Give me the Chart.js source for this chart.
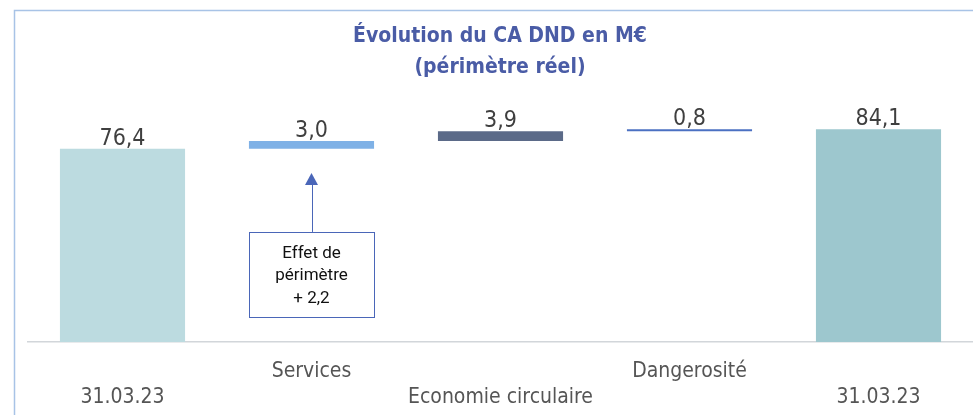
<!DOCTYPE html>
<html><head><meta charset="utf-8">
<script src="https://cdn.jsdelivr.net/npm/chart.js@4/dist/chart.umd.min.js"></script>
<style>html,body{margin:0;padding:0;background:#fff}canvas{display:block}</style>
</head><body>
<canvas id="c" width="973" height="415"></canvas>
<script>
const categories = ['31.03.23', 'Services', 'Economie circulaire', 'Dangerosité', '31.03.23'];
const values = [76.4, 3.0, 3.9, 0.8, 84.1];
const kinds = ['total', 'delta', 'delta', 'delta', 'total'];
const labelRow = [1, 0, 1, 0, 1];
const colors = ['#bcdbe0', '#7fb1e6', '#5b6a88', '#4b70c2', '#9dc7ce'];
const titleLines = ['Évolution du CA DND en M€', '(périmètre réel)'];
const noteLines = ['Effet de', 'périmètre', '+ 2,2'];

let run = 0;
const ranges = values.map((v, i) => {
  if (kinds[i] === 'total') { run = v; return [0, v]; }
  const r = [run, +(run + v).toFixed(1)]; run = r[1]; return r;
});
const axisLabels = categories.map((c, i) => labelRow[i] ? ['', c] : [c, '']);
const fmt = v => v.toFixed(1).replace('.', ',');
const NARROW = '"Liberation Sans Narrow", "DejaVu Sans Condensed", sans-serif';

const deco = {
  id: 'deco',
  afterDraw(chart) {
    const ctx = chart.ctx, ys = chart.scales.y;
    ctx.save();
    // frame
    ctx.strokeStyle = '#a8c3e6'; ctx.lineWidth = 1.5;
    ctx.beginPath(); ctx.moveTo(14.5, 415); ctx.lineTo(14.5, 10.5); ctx.lineTo(973, 10.5); ctx.stroke();
    // title
    ctx.fillStyle = '#4a5ca6'; ctx.textAlign = 'center'; ctx.textBaseline = 'middle';
    ctx.font = 'bold 21px ' + NARROW;
    ctx.fillText(titleLines[0], 500, 37);
    ctx.fillText(titleLines[1], 500, 68);
    // value labels
    const meta = chart.getDatasetMeta(0);
    ctx.fillStyle = '#3f3f3f'; ctx.font = '23px ' + NARROW; ctx.textBaseline = 'alphabetic';
    meta.data.forEach((bar, i) => {
      const top = Math.min(bar.y, bar.base);
      ctx.fillText(fmt(values[i]), bar.x, top - 4);
    });
    // annotation
    const b = meta.data[1];
    const cx = b.x, w = b.width;
    const tipY = ys.getPixelForValue(66.8), boxTop = ys.getPixelForValue(43.5), boxBot = ys.getPixelForValue(9.9);
    ctx.strokeStyle = '#4a66b8'; ctx.fillStyle = '#4a66b8'; ctx.lineWidth = 1;
    ctx.beginPath(); ctx.moveTo(Math.round(cx) + 0.5, boxTop); ctx.lineTo(Math.round(cx) + 0.5, tipY + 10); ctx.stroke();
    ctx.beginPath(); ctx.moveTo(cx, tipY); ctx.lineTo(cx - 6.5, tipY + 12); ctx.lineTo(cx + 6.5, tipY + 12); ctx.closePath(); ctx.fill();
    ctx.strokeRect(Math.round(cx - w / 2) + 0.5, Math.round(boxTop) + 0.5, Math.round(w), Math.round(boxBot - boxTop));
    ctx.fillStyle = '#111'; ctx.font = '17px Roboto, "Open Sans", sans-serif'; ctx.textBaseline = 'alphabetic';
    const mid = (boxTop + boxBot) / 2;
    noteLines.forEach((t, k) => ctx.fillText(t, cx, mid + (k - 1) * 22.5 + 6));
    ctx.restore();
  }
};

new Chart(document.getElementById('c'), {
  type: 'bar',
  data: {
    labels: axisLabels,
    datasets: [{
      data: ranges,
      backgroundColor: colors,
      borderWidth: 0,
      borderSkipped: false,
      categoryPercentage: 1,
      barPercentage: 0.662
    }]
  },
  options: {
    responsive: false,
    animation: false,
    layout: { padding: { top: 89, left: 28, right: 0, bottom: 0 } },
    plugins: { legend: { display: false }, tooltip: { enabled: false }, title: { display: false } },
    scales: {
      y: { display: false, min: 0, max: 100 },
      x: {
        grid: { display: false, drawTicks: false },
        border: { display: true, color: '#d2d6da', width: 1.5 },
        ticks: { color: '#555', font: { family: NARROW, size: 21, lineHeight: 1.25 }, padding: 16, maxRotation: 0, autoSkip: false },
        afterFit(s) { s.height = 73; }
      }
    }
  },
  plugins: [deco]
});
</script>
</body></html>
